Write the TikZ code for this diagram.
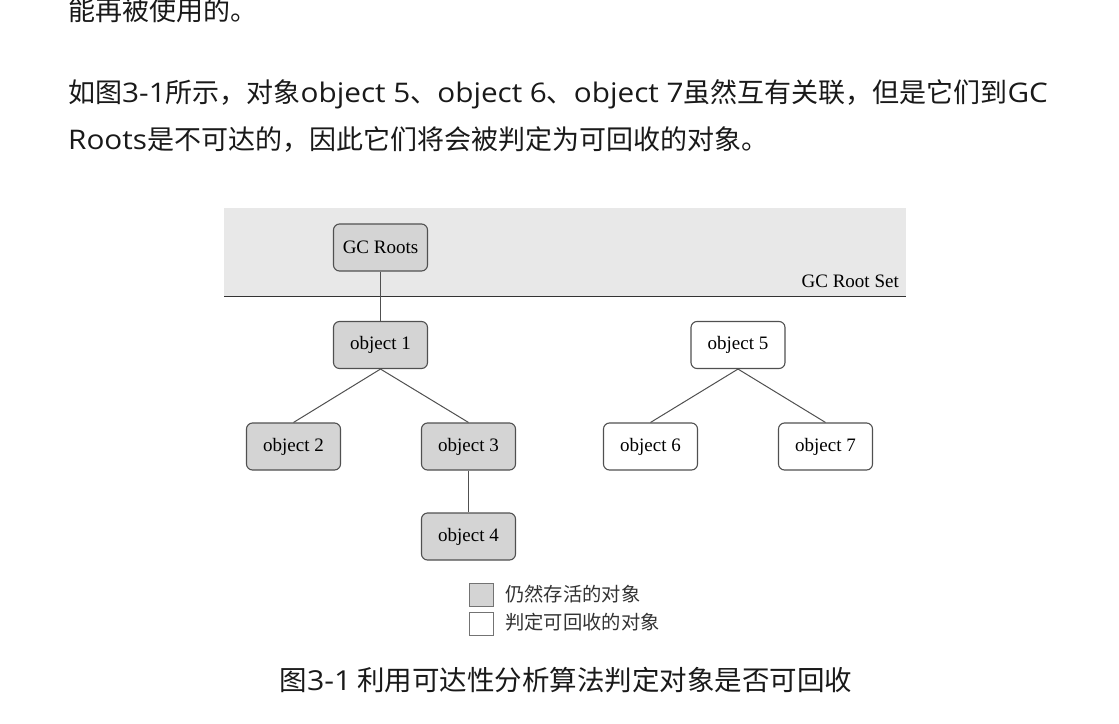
\documentclass[tikz,border=0pt]{standalone}
\usepackage{fontspec}
\setmainfont{Liberation Serif}
\newfontfamily\cjk{Noto Sans CJK SC}
\newfontfamily\latf[FakeStretch=1.1]{Open Sans}
\newcommand\myls[1]{{\latf #1}}
\definecolor{bandgray}{RGB}{232,232,232}
\definecolor{livegray}{RGB}{212,212,212}
\definecolor{edgegray}{RGB}{80,80,80}
\begin{document}
\begin{tikzpicture}[x=1pt,y=-1pt,
  obj/.style={draw=edgegray,line width=1.1pt,rounded corners=6pt,minimum width=94pt,minimum height=47pt,inner sep=0pt,font=\fontsize{19}{22}\selectfont},
  live/.style={obj,fill=livegray},
  dead/.style={obj,fill=white},
  link/.style={draw=edgegray,line width=1pt},
  para/.style={anchor=base west,inner sep=0pt,font=\cjk\fontsize{27}{32}\selectfont,text=black!90},
  legtext/.style={anchor=base west,inner sep=0pt,font=\cjk\fontsize{19.3}{22}\selectfont,text=black!80},
  legbox/.style={draw=edgegray!80,line width=0.8pt,minimum width=24pt,minimum height=23pt,inner sep=0pt}]
\useasboundingbox (0,0) rectangle (1119,723);
\fill[white] (0,0) rectangle (1119,723);
% paragraph text
\node[para] (t1) at (68,20) {能再被使用的。};
\node[para] (t2) at (68,102) {如图\myls{3-1}所示，对象\myls{object 5}、\myls{object 6}、\myls{object 7}虽然互有关联，但是它们到\myls{GC}};
\node[para] (t3) at (68,149) {\myls{Roots}是不可达的，因此它们将会被判定为可回收的对象。};
% root set band
\fill[bandgray] (224,208) rectangle (906,296);
\draw[black!80,line width=1pt] (224,296) -- (906,296);
\node[anchor=base east,inner sep=0pt,font=\fontsize{19}{22}\selectfont] (rs) at (899,287) {GC Root Set};
% nodes
\node[live] (gc) at (380.5,247.5) {GC Roots};
\node[live] (o1) at (380.5,345) {object 1};
\node[live] (o2) at (293.5,446.5) {object 2};
\node[live] (o3) at (468.5,446.5) {object 3};
\node[live] (o4) at (468.5,536.5) {object 4};
\node[dead] (o5) at (738,345) {object 5};
\node[dead] (o6) at (650.5,446.5) {object 6};
\node[dead] (o7) at (825.5,446.5) {object 7};
% links
\draw[link] (gc) -- (o1);
\draw[link] (o1.south) -- (o2.north);
\draw[link] (o1.south) -- (o3.north);
\draw[link] (o3) -- (o4);
\draw[link] (o5.south) -- (o6.north);
\draw[link] (o5.south) -- (o7.north);
% legend
\node[legbox,fill=livegray] (lg1) at (481,594.5) {};
\node[legbox,fill=white] (lg2) at (481,623.5) {};
\node[legtext] (lt1) at (505,601) {仍然存活的对象};
\node[legtext] (lt2) at (505,629) {判定可回收的对象};
% caption
\node[anchor=base,inner sep=0pt,font=\cjk\fontsize{27.5}{32}\selectfont,text=black!90] (cap) at (566,690) {图\myls{3-1} 利用可达性分析算法判定对象是否可回收};
\end{tikzpicture}
\end{document}
